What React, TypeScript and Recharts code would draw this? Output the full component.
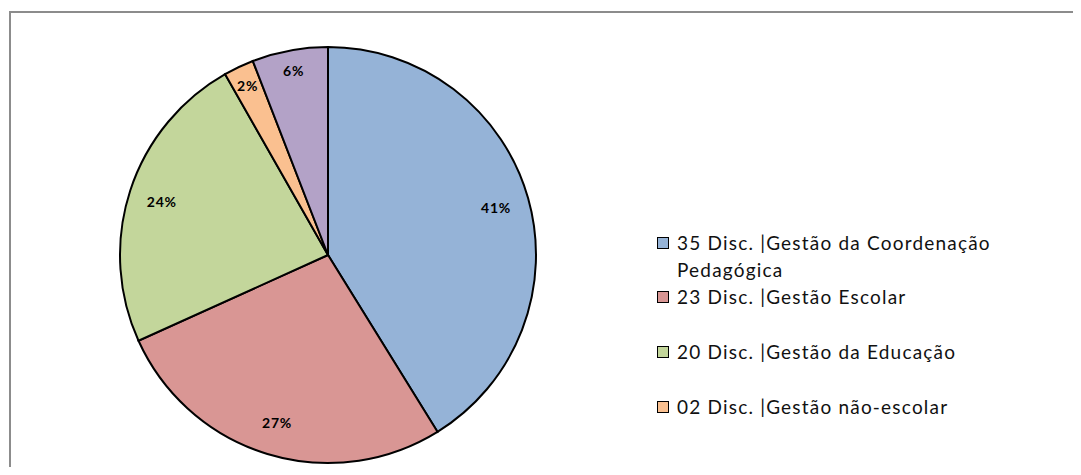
import { Cell, Legend, Pie, PieChart } from "recharts";

const categories = [
  "35 Disc. |Gestão da Coordenação Pedagógica",
  "23 Disc. |Gestão Escolar",
  "20 Disc. |Gestão da Educação",
  "02 Disc. |Gestão não-escolar",
  "05 Disc. |Outros",
];
const values = [35, 23, 20, 2, 5];
const colors = ["#95b3d7", "#d99694", "#c3d69b", "#fac090", "#b3a2c7"];
const visibleLegendCount = 4;

const RADIAN = Math.PI / 180;
const FONT = "Lato, 'Open Sans', sans-serif";

const data = categories.map((name, i) => ({ name, value: values[i], color: colors[i] }));

function renderLabel(props: any) {
  const { cx, cy, midAngle, outerRadius, percent } = props;
  const factor = percent < 0.1 ? 0.9 : 0.84;
  const r = outerRadius * factor;
  const x = cx + r * Math.cos(-midAngle * RADIAN);
  const y = cy + r * Math.sin(-midAngle * RADIAN);
  return (
    <text
      x={x}
      y={y}
      textAnchor="middle"
      dominantBaseline="central"
      fill="#000"
      fontSize={14}
      fontWeight={700}
      letterSpacing={0.8}
      fontFamily={FONT}
    >
      {`${Math.round(percent * 100)}%`}
    </text>
  );
}

// legend drawn from the data arrays so the order stays the same as the slices
function LegendContent() {
  const items = data.slice(0, visibleLegendCount);
  return (
    <div style={{ fontFamily: FONT, fontSize: 19, letterSpacing: 1.2, color: "#111" }}>
      {items.map((entry, i) => (
        <div
          key={entry.name}
          style={{ display: "flex", alignItems: "flex-start", lineHeight: "27px", marginBottom: i === 0 ? 0 : 28 }}
        >
          <span
            style={{
              display: "inline-block",
              width: 10,
              height: 10,
              marginTop: 8,
              marginRight: 8,
              flex: "none",
              background: entry.color,
              border: "1.5px solid #000",
            }}
          />
          <span style={{ width: 340 }}>{entry.name}</span>
        </div>
      ))}
    </div>
  );
}

export default function App() {
  return (
    <div style={{ margin: -8, width: 1081, height: 475, position: "relative", overflow: "hidden", background: "#fff" }}>
      <div
        style={{
          position: "absolute",
          left: 9,
          top: 11,
          width: 1200,
          height: 600,
          border: "2px solid #8c8c8c",
        }}
      />
      <div style={{ position: "absolute", left: 0, top: 0 }}>
        <PieChart width={1081} height={475} margin={{ top: 0, right: 0, bottom: 0, left: 0 }}>
          <Pie
            data={data}
            dataKey="value"
            nameKey="name"
            cx={328}
            cy={255}
            outerRadius={208}
            startAngle={90}
            endAngle={-270}
            stroke="#000"
            strokeWidth={2}
            label={renderLabel}
            labelLine={false}
            isAnimationActive={false}
          >
            {data.map((entry) => (
              <Cell key={entry.name} fill={entry.color} />
            ))}
          </Pie>
          <Legend
            layout="vertical"
            content={<LegendContent />}
            wrapperStyle={{ left: 657, top: 229, width: 420, bottom: "auto", right: "auto" }}
          />
        </PieChart>
      </div>
    </div>
  );
}
